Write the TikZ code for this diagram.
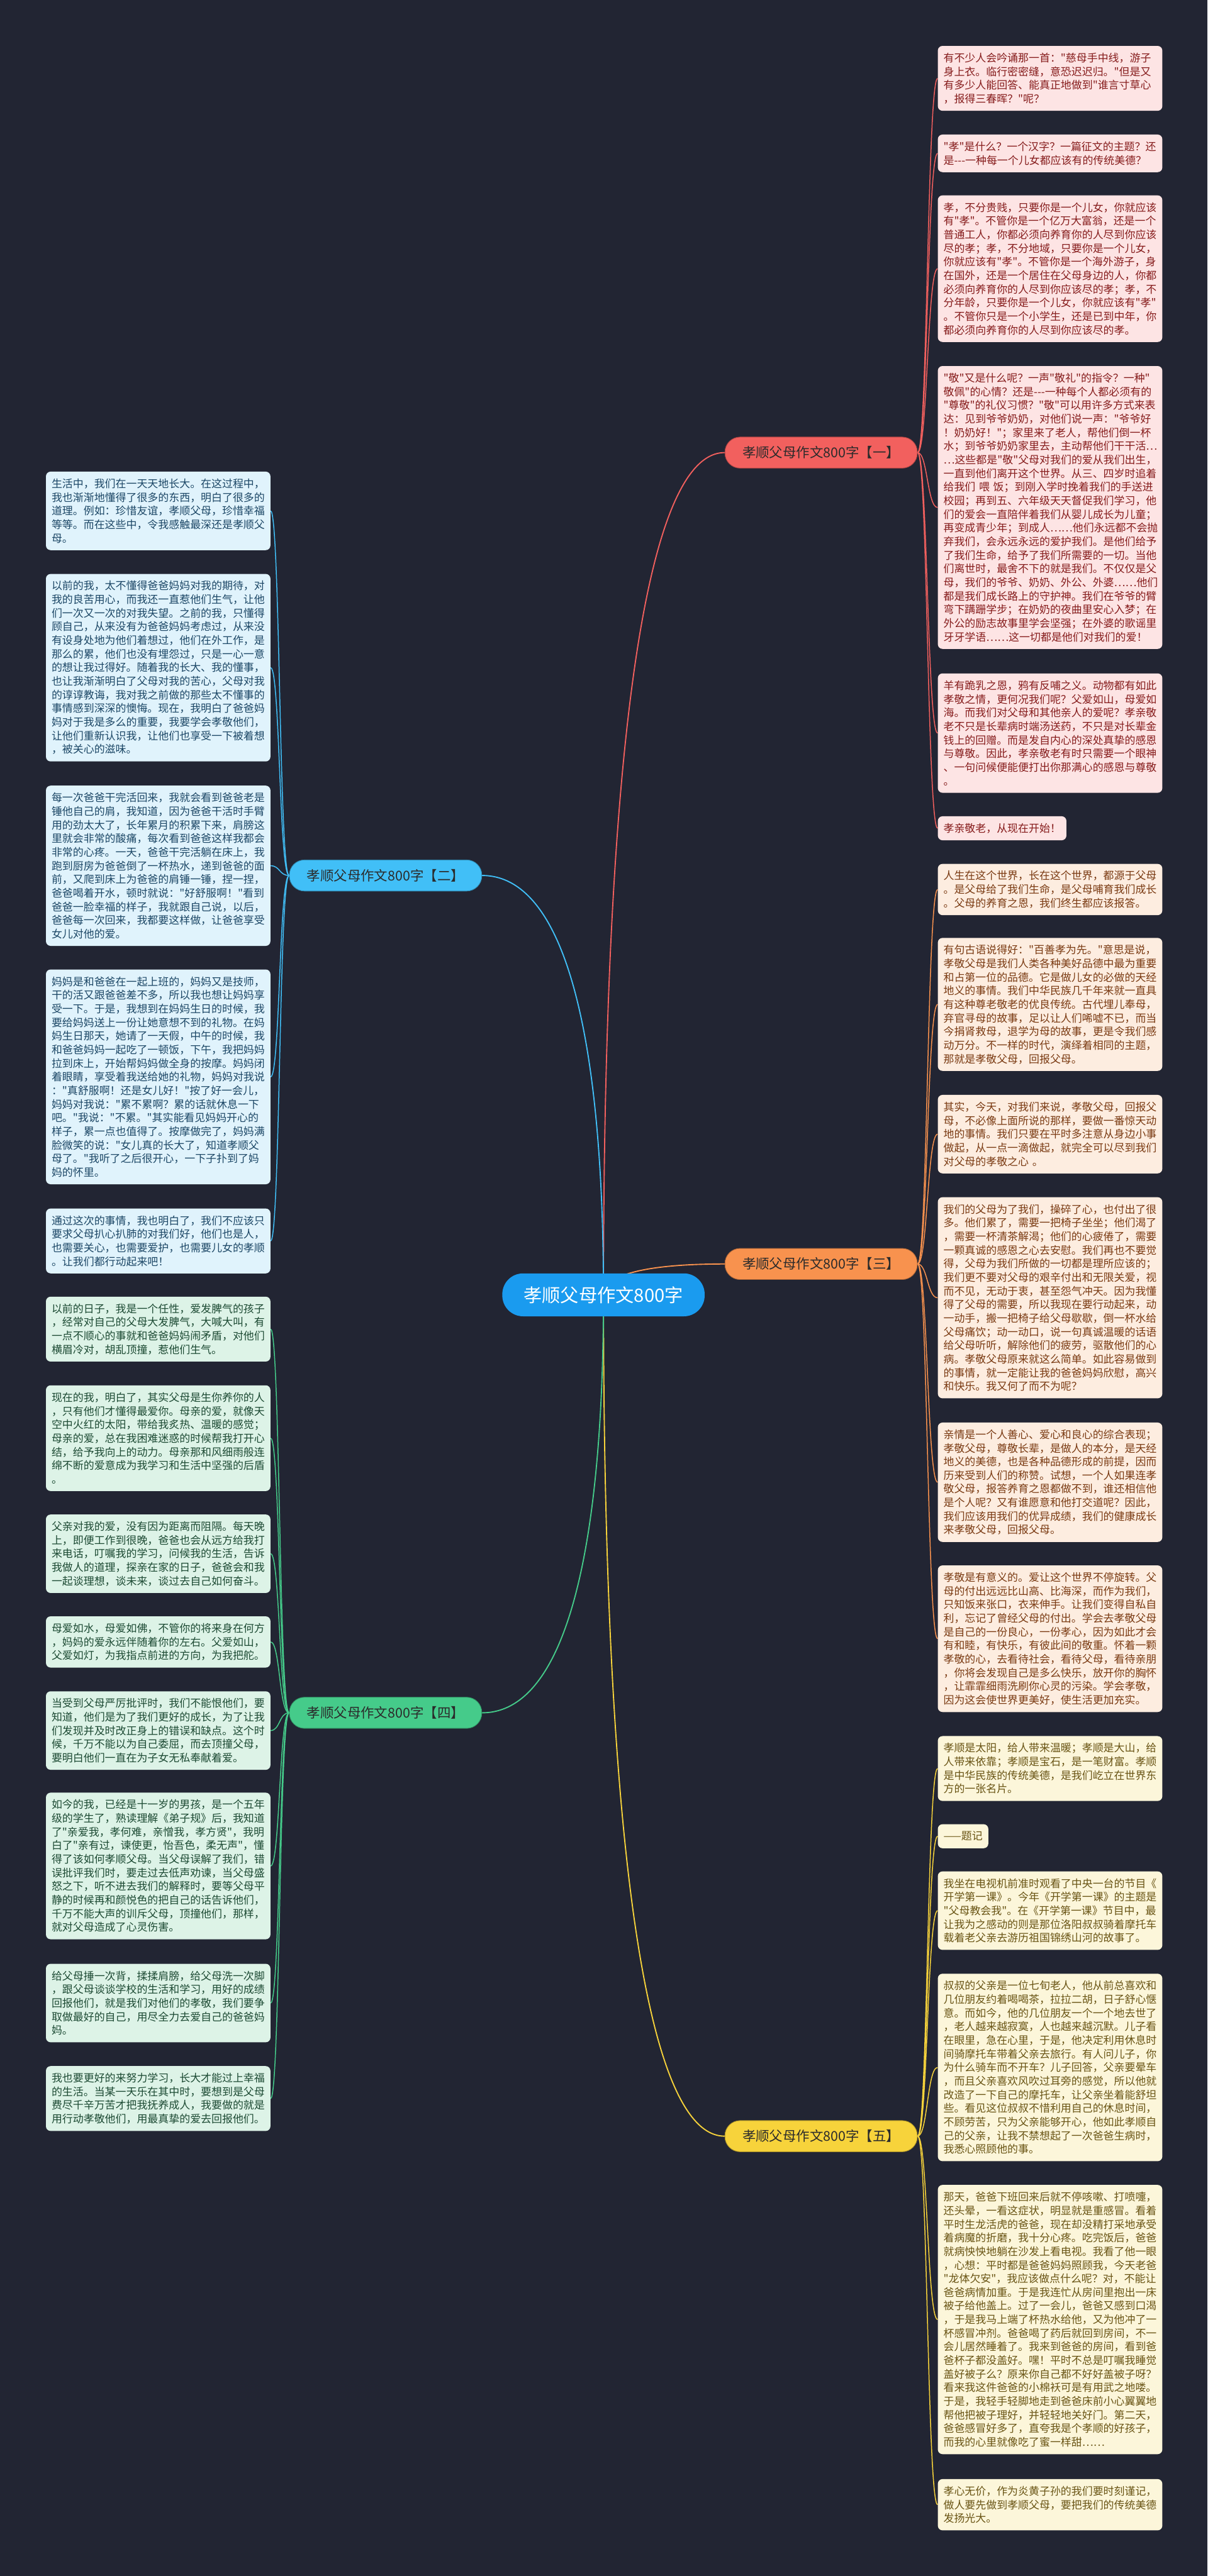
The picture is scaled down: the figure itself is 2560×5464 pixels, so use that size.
\documentclass[tikz,border=0pt]{standalone}
\usepackage{fontspec}
\newfontfamily\cjk{Noto Sans CJK SC}
\usetikzlibrary{calc,backgrounds}
\setlength{\parindent}{0pt}
\definecolor{clBg}{HTML}{222533}
\definecolor{clRoot}{HTML}{1A9BEF}
\definecolor{clRed}{HTML}{F2605E}
\definecolor{clBlue}{HTML}{41BFF7}
\definecolor{clOrange}{HTML}{F8924E}
\definecolor{clGreen}{HTML}{45CB8A}
\definecolor{clYellow}{HTML}{F7D33B}
\definecolor{clBranchText}{HTML}{2B2B2B}
\definecolor{clPinkBox}{HTML}{FDE4E4}
\definecolor{clPinkText}{HTML}{861C1C}
\definecolor{clPeachBox}{HTML}{FDEDE0}
\definecolor{clPeachText}{HTML}{7A3A12}
\definecolor{clCreamBox}{HTML}{FCF6DA}
\definecolor{clCreamText}{HTML}{695414}
\definecolor{clSkyBox}{HTML}{E0F3FC}
\definecolor{clSkyText}{HTML}{1C4766}
\definecolor{clMintBox}{HTML}{DDF3E7}
\definecolor{clMintText}{HTML}{1C4A33}

\begin{document}
\begin{tikzpicture}[x=0.5pt,y=-0.5pt,every node/.style={font=\cjk},
  leaf/.style={anchor=north west,rounded corners=5pt,inner xsep=6pt,inner ysep=2pt,align=left,
    font={\cjk\fontsize{11.3pt}{14.45pt}\selectfont},minimum height={#1*14.45pt+11pt}},
  wide/.style={text width=226pt},
  redleaf/.style={leaf=#1,wide,fill=clPinkBox,text=clPinkText},
  orangeleaf/.style={leaf=#1,wide,fill=clPeachBox,text=clPeachText},
  yellowleaf/.style={leaf=#1,wide,fill=clCreamBox,text=clCreamText},
  blueleaf/.style={leaf=#1,wide,fill=clSkyBox,text=clSkyText},
  greenleaf/.style={leaf=#1,wide,fill=clMintBox,text=clMintText},
  branch/.style={fill=#1,draw=#1!70!black,line width=0.6pt,minimum width=204pt,minimum height=33pt,
    rounded corners=16pt,inner sep=0pt,text=clBranchText,font={\cjk\fontsize{14.3pt}{17pt}\selectfont}},
  root/.style={fill=clRoot,text=white,minimum width=214.5pt,minimum height=45.5pt,rounded corners=22pt,
    inner sep=0pt,font={\cjk\fontsize{19.5pt}{22pt}\selectfont}},
  link/.style={line width=1pt},
  trunk/.style={line width=1.25pt}]
  \useasboundingbox (0,0) rectangle (2560,5464);

  \node[root] (root) at (1279.5,2746.5) {孝顺父母作文800字};
  \node[branch=clRed] (b1) at (1741,960) {孝顺父母作文800字【一】};
  \node[branch=clBlue] (b2) at (817.5,1857) {孝顺父母作文800字【二】};
  \node[branch=clOrange] (b3) at (1741,2681) {孝顺父母作文800字【三】};
  \node[branch=clGreen] (b4) at (817.5,3633) {孝顺父母作文800字【四】};
  \node[branch=clYellow] (b5) at (1741,4531) {孝顺父母作文800字【五】};

  % 【一】
  \node[redleaf=4] (r1a) at (1988,97) {有不少人会吟诵那一首："慈母手中线，游子\\身上衣。临行密密缝，意恐迟迟归。"但是又\\有多少人能回答、能真正地做到"谁言寸草心\\，报得三春晖？"呢？};
  \node[redleaf=2] (r1b) at (1988,285) {"孝"是什么？一个汉字？一篇征文的主题？还\\是-{}-{}-一种每一个儿女都应该有的传统美德？};
  \node[redleaf=10] (r1c) at (1988,414) {孝，不分贵贱，只要你是一个儿女，你就应该\\有"孝"。不管你是一个亿万大富翁，还是一个\\普通工人，你都必须向养育你的人尽到你应该\\尽的孝；孝，不分地域，只要你是一个儿女，\\你就应该有"孝"。不管你是一个海外游子，身\\在国外，还是一个居住在父母身边的人，你都\\必须向养育你的人尽到你应该尽的孝；孝，不\\分年龄，只要你是一个儿女，你就应该有"孝"\\。不管你只是一个小学生，还是已到中年，你\\都必须向养育你的人尽到你应该尽的孝。};
  \node[redleaf=20] (r1d) at (1988,776) {"敬"又是什么呢？一声"敬礼"的指令？一种"\\敬佩"的心情？还是-{}-{}-一种每个人都必须有的\\"尊敬"的礼仪习惯？"敬"可以用许多方式来表\\达：见到爷爷奶奶，对他们说一声："爷爷好\\！奶奶好！"；家里来了老人，帮他们倒一杯\\水；到爷爷奶奶家里去，主动帮他们干干活…\\…这些都是"敬"父母对我们的爱从我们出生，\\一直到他们离开这个世界。从三、四岁时追着\\给我们 喂 饭；到刚入学时挽着我们的手送进\\校园；再到五、六年级天天督促我们学习，他\\们的爱会一直陪伴着我们从婴儿成长为儿童；\\再变成青少年；到成人……他们永远都不会抛\\弃我们，会永远永远的爱护我们。是他们给予\\了我们生命，给予了我们所需要的一切。当他\\们离世时，最舍不下的就是我们。不仅仅是父\\母，我们的爷爷、奶奶、外公、外婆……他们\\都是我们成长路上的守护神。我们在爷爷的臂\\弯下蹒跚学步；在奶奶的夜曲里安心入梦；在\\外公的励志故事里学会坚强；在外婆的歌谣里\\牙牙学语……这一切都是他们对我们的爱！};
  \node[redleaf=8] (r1e) at (1988,1428) {羊有跪乳之恩，鸦有反哺之义。动物都有如此\\孝敬之情，更何况我们呢？父爱如山，母爱如\\海。而我们对父母和其他亲人的爱呢？孝亲敬\\老不只是长辈病时端汤送药，不只是对长辈金\\钱上的回赠。而是发自内心的深处真挚的感恩\\与尊敬。因此，孝亲敬老有时只需要一个眼神\\、一句问候便能便打出你那满心的感恩与尊敬\\。};
  \node[leaf=1,fill=clPinkBox,text=clPinkText] (r1f) at (1988,1731) {孝亲敬老，从现在开始！};

  % 【三】
  \node[orangeleaf=3] (r3a) at (1988,1832) {人生在这个世界，长在这个世界，都源于父母\\。是父母给了我们生命，是父母哺育我们成长\\。父母的养育之恩，我们终生都应该报答。};
  \node[orangeleaf=9] (r3b) at (1988,1989) {有句古语说得好："百善孝为先。"意思是说，\\孝敬父母是我们人类各种美好品德中最为重要\\和占第一位的品德。它是做儿女的必做的天经\\地义的事情。我们中华民族几千年来就一直具\\有这种尊老敬老的优良传统。古代埋儿奉母，\\弃官寻母的故事，足以让人们唏嘘不已，而当\\今捐肾救母，退学为母的故事，更是令我们感\\动万分。不一样的时代，演绎着相同的主题，\\那就是孝敬父母，回报父母。};
  \node[orangeleaf=5] (r3c) at (1988,2322) {其实，今天，对我们来说，孝敬父母，回报父\\母，不必像上面所说的那样，要做一番惊天动\\地的事情。我们只要在平时多注意从身边小事\\做起，从一点一滴做起，就完全可以尽到我们\\对父母的孝敬之心 。};
  \node[orangeleaf=14] (r3d) at (1988,2539) {我们的父母为了我们，操碎了心，也付出了很\\多。他们累了，需要一把椅子坐坐；他们渴了\\，需要一杯清茶解渴；他们的心疲倦了，需要\\一颗真诚的感恩之心去安慰。我们再也不要觉\\得，父母为我们所做的一切都是理所应该的；\\我们更不要对父母的艰辛付出和无限关爱，视\\而不见，无动于衷，甚至怨气冲天。因为我懂\\得了父母的需要，所以我现在要行动起来，动\\一动手，搬一把椅子给父母歇歇，倒一杯水给\\父母痛饮；动一动口，说一句真诚温暖的话语\\给父母听听，解除他们的疲劳，驱散他们的心\\病。孝敬父母原来就这么简单。如此容易做到\\的事情，就一定能让我的爸爸妈妈欣慰，高兴\\和快乐。我又何了而不为呢？};
  \node[orangeleaf=8] (r3e) at (1988,3017) {亲情是一个人善心、爱心和良心的综合表现；\\孝敬父母，尊敬长辈，是做人的本分，是天经\\地义的美德，也是各种品德形成的前提，因而\\历来受到人们的称赞。试想，一个人如果连孝\\敬父母，报答养育之恩都做不到，谁还相信他\\是个人呢？又有谁愿意和他打交道呢？因此，\\我们应该用我们的优异成绩，我们的健康成长\\来孝敬父母，回报父母。};
  \node[orangeleaf=10] (r3f) at (1988,3320) {孝敬是有意义的。爱让这个世界不停旋转。父\\母的付出远远比山高、比海深，而作为我们，\\只知饭来张口，衣来伸手。让我们变得自私自\\利，忘记了曾经父母的付出。学会去孝敬父母\\是自己的一份良心，一份孝心，因为如此才会\\有和睦，有快乐，有彼此间的敬重。怀着一颗\\孝敬的心，去看待社会，看待父母，看待亲朋\\，你将会发现自己是多么快乐，放开你的胸怀\\，让霏霏细雨洗刷你心灵的污染。学会孝敬，\\因为这会使世界更美好，使生活更加充实。};

  % 【五】
  \node[yellowleaf=4] (r5a) at (1988,3682) {孝顺是太阳，给人带来温暖；孝顺是大山，给\\人带来依靠；孝顺是宝石，是一笔财富。孝顺\\是中华民族的传统美德，是我们屹立在世界东\\方的一张名片。};
  \node[leaf=1,fill=clCreamBox,text=clCreamText] (r5b) at (1988,3869) {——题记};
  \node[yellowleaf=5] (r5c) at (1988,3969) {我坐在电视机前准时观看了中央一台的节目《\\开学第一课》。今年《开学第一课》的主题是\\"父母教会我"。在《开学第一课》节目中，最\\让我为之感动的则是那位洛阳叔叔骑着摩托车\\载着老父亲去游历祖国锦绣山河的故事了。};
  \node[yellowleaf=13] (r5d) at (1988,4186) {叔叔的父亲是一位七旬老人，他从前总喜欢和\\几位朋友约着喝喝茶，拉拉二胡，日子舒心惬\\意。而如今，他的几位朋友一个一个地去世了\\，老人越来越寂寞，人也越来越沉默。儿子看\\在眼里，急在心里，于是，他决定利用休息时\\间骑摩托车带着父亲去旅行。有人问儿子，你\\为什么骑车而不开车？儿子回答，父亲要晕车\\，而且父亲喜欢风吹过耳旁的感觉，所以他就\\改造了一下自己的摩托车，让父亲坐着能舒坦\\些。看见这位叔叔不惜利用自己的休息时间，\\不顾劳苦，只为父亲能够开心，他如此孝顺自\\己的父亲，让我不禁想起了一次爸爸生病时，\\我悉心照顾他的事。};
  \node[yellowleaf=19] (r5e) at (1988,4634) {那天，爸爸下班回来后就不停咳嗽、打喷嚏，\\还头晕，一看这症状，明显就是重感冒。看着\\平时生龙活虎的爸爸，现在却没精打采地承受\\着病魔的折磨，我十分心疼。吃完饭后，爸爸\\就病怏怏地躺在沙发上看电视。我看了他一眼\\，心想：平时都是爸爸妈妈照顾我，今天老爸\\"龙体欠安"，我应该做点什么呢？对，不能让\\爸爸病情加重。于是我连忙从房间里抱出一床\\被子给他盖上。过了一会儿，爸爸又感到口渴\\，于是我马上端了杯热水给他，又为他冲了一\\杯感冒冲剂。爸爸喝了药后就回到房间，不一\\会儿居然睡着了。我来到爸爸的房间，看到爸\\爸杯子都没盖好。嘿！平时不总是叮嘱我睡觉\\盖好被子么？原来你自己都不好好盖被子呀？\\看来我这件爸爸的小棉袄可是有用武之地喽。\\于是，我轻手轻脚地走到爸爸床前小心翼翼地\\帮他把被子理好，并轻轻地关好门。第二天，\\爸爸感冒好多了，直夸我是个孝顺的好孩子，\\而我的心里就像吃了蜜一样甜……};
  \node[yellowleaf=3] (r5f) at (1988,5258) {孝心无价，作为炎黄子孙的我们要时刻谨记，\\做人要先做到孝顺父母，要把我们的传统美德\\发扬光大。};

  % 【二】
  \node[blueleaf=5] (l2a) at (97,1000) {生活中，我们在一天天地长大。在这过程中，\\我也渐渐地懂得了很多的东西，明白了很多的\\道理。例如：珍惜友谊，孝顺父母，珍惜幸福\\等等。而在这些中，令我感触最深还是孝顺父\\母。};
  \node[blueleaf=13] (l2b) at (97,1217) {以前的我，太不懂得爸爸妈妈对我的期待，对\\我的良苦用心，而我还一直惹他们生气，让他\\们一次又一次的对我失望。之前的我，只懂得\\顾自己，从来没有为爸爸妈妈考虑过，从来没\\有设身处地为他们着想过，他们在外工作，是\\那么的累，他们也没有埋怨过，只是一心一意\\的想让我过得好。随着我的长大、我的懂事，\\也让我渐渐明白了父母对我的苦心，父母对我\\的谆谆教诲，我对我之前做的那些太不懂事的\\事情感到深深的懊悔。现在，我明白了爸爸妈\\妈对于我是多么的重要，我要学会孝敬他们，\\让他们重新认识我，让他们也享受一下被着想\\，被关心的滋味。};
  \node[blueleaf=11] (l2c) at (97,1666) {每一次爸爸干完活回来，我就会看到爸爸老是\\锤他自己的肩，我知道，因为爸爸干活时手臂\\用的劲太大了，长年累月的积累下来，肩膀这\\里就会非常的酸痛，每次看到爸爸这样我都会\\非常的心疼。一天，爸爸干完活躺在床上，我\\跑到厨房为爸爸倒了一杯热水，递到爸爸的面\\前，又爬到床上为爸爸的肩锤一锤，捏一捏，\\爸爸喝着开水，顿时就说："好舒服啊！"看到\\爸爸一脸幸福的样子，我就跟自己说，以后，\\爸爸每一次回来，我都要这样做，让爸爸享受\\女儿对他的爱。};
  \node[blueleaf=15] (l2d) at (97,2056) {妈妈是和爸爸在一起上班的，妈妈又是技师，\\干的活又跟爸爸差不多，所以我也想让妈妈享\\受一下。于是，我想到在妈妈生日的时候，我\\要给妈妈送上一份让她意想不到的礼物。在妈\\妈生日那天，她请了一天假，中午的时候，我\\和爸爸妈妈一起吃了一顿饭，下午，我把妈妈\\拉到床上，开始帮妈妈做全身的按摩。妈妈闭\\着眼睛，享受着我送给她的礼物，妈妈对我说\\："真舒服啊！还是女儿好！"按了好一会儿，\\妈妈对我说："累不累啊？累的话就休息一下\\吧。"我说："不累。"其实能看见妈妈开心的\\样子，累一点也值得了。按摩做完了，妈妈满\\脸微笑的说："女儿真的长大了，知道孝顺父\\母了。"我听了之后很开心，一下子扑到了妈\\妈的怀里。};
  \node[blueleaf=4] (l2e) at (97,2563) {通过这次的事情，我也明白了，我们不应该只\\要求父母扒心扒肺的对我们好，他们也是人，\\也需要关心，也需要爱护，也需要儿女的孝顺\\。让我们都行动起来吧！};

  % 【四】
  \node[greenleaf=4] (l4a) at (97,2750) {以前的日子，我是一个任性，爱发脾气的孩子\\，经常对自己的父母大发脾气，大喊大叫，有\\一点不顺心的事就和爸爸妈妈闹矛盾，对他们\\横眉冷对，胡乱顶撞，惹他们生气。};
  \node[greenleaf=7] (l4b) at (97,2938) {现在的我，明白了，其实父母是生你养你的人\\，只有他们才懂得最爱你。母亲的爱，就像天\\空中火红的太阳，带给我炙热、温暖的感觉；\\母亲的爱，总在我困难迷惑的时候帮我打开心\\结，给予我向上的动力。母亲那和风细雨般连\\绵不断的爱意成为我学习和生活中坚强的后盾\\。};
  \node[greenleaf=5] (l4c) at (97,3212) {父亲对我的爱，没有因为距离而阻隔。每天晚\\上，即便工作到很晚，爸爸也会从远方给我打\\来电话，叮嘱我的学习，问候我的生活，告诉\\我做人的道理，探亲在家的日子，爸爸会和我\\一起谈理想，谈未来，谈过去自己如何奋斗。};
  \node[greenleaf=3] (l4d) at (97,3428) {母爱如水，母爱如佛，不管你的将来身在何方\\，妈妈的爱永远伴随着你的左右。父爱如山，\\父爱如灯，为我指点前进的方向，为我把舵。};
  \node[greenleaf=5] (l4e) at (97,3587) {当受到父母严厉批评时，我们不能恨他们，要\\知道，他们是为了我们更好的成长，为了让我\\们发现并及时改正身上的错误和缺点。这个时\\候，千万不能以为自己委屈，而去顶撞父母，\\要明白他们一直在为子女无私奉献着爱。};
  \node[greenleaf=10] (l4f) at (97,3802) {如今的我，已经是十一岁的男孩，是一个五年\\级的学生了，熟读理解《弟子规》后，我知道\\了"亲爱我，孝何难，亲憎我，孝方贤"，我明\\白了"亲有过，谏使更，怡吾色，柔无声"，懂\\得了该如何孝顺父母。当父母误解了我们，错\\误批评我们时，要走过去低声劝谏，当父母盛\\怒之下，听不进去我们的解释时，要等父母平\\静的时候再和颜悦色的把自己的话告诉他们，\\千万不能大声的训斥父母，顶撞他们，那样，\\就对父母造成了心灵伤害。};
  \node[greenleaf=5] (l4g) at (97,4165) {给父母捶一次背，揉揉肩膀，给父母洗一次脚\\，跟父母谈谈学校的生活和学习，用好的成绩\\回报他们，就是我们对他们的孝敬，我们要争\\取做最好的自己，用尽全力去爱自己的爸爸妈\\妈。};
  \node[greenleaf=4] (l4h) at (97,4382) {我也要更好的来努力学习，长大才能过上幸福\\的生活。当某一天乐在其中时，要想到是父母\\费尽千辛万苦才把我抚养成人，我要做的就是\\用行动孝敬他们，用最真挚的爱去回报他们。};

  \begin{scope}[on background layer]
    \fill[clBg] (0,0) rectangle (2560,5464);
    % root to branches
    \foreach \b/\c in {b1/clRed,b3/clOrange,b5/clYellow}
      \draw[trunk,\c] (root.center) .. controls ($(root.center)!0.6!(root.center |- \b.west)$) and ($(\b.west)!0.7!(root.center |- \b.west)$) .. (\b.west);
    \foreach \b/\c in {b2/clBlue,b4/clGreen}
      \draw[trunk,\c] (root.center) .. controls ($(root.center)!0.6!(root.center |- \b.east)$) and ($(\b.east)!0.7!(root.center |- \b.east)$) .. (\b.east);
    % branches to leaves
    \foreach \n in {r1a,r1b,r1c,r1d,r1e,r1f}
      \draw[link,clRed] (b1.east) .. controls ($(b1.east)+(21,0)$) and ($(\n.west)+(-22,0)$) .. (\n.west);
    \foreach \n in {r3a,r3b,r3c,r3d,r3e,r3f}
      \draw[link,clOrange] (b3.east) .. controls ($(b3.east)+(21,0)$) and ($(\n.west)+(-22,0)$) .. (\n.west);
    \foreach \n in {r5a,r5b,r5c,r5d,r5e,r5f}
      \draw[link,clYellow] (b5.east) .. controls ($(b5.east)+(21,0)$) and ($(\n.west)+(-22,0)$) .. (\n.west);
    \foreach \n in {l2a,l2b,l2c,l2d,l2e}
      \draw[link,clBlue] (b2.west) .. controls ($(b2.west)+(-21,0)$) and ($(\n.east)+(20,0)$) .. (\n.east);
    \foreach \n in {l4a,l4b,l4c,l4d,l4e,l4f,l4g,l4h}
      \draw[link,clGreen] (b4.west) .. controls ($(b4.west)+(-21,0)$) and ($(\n.east)+(20,0)$) .. (\n.east);
  \end{scope}
\end{tikzpicture}
\end{document}
